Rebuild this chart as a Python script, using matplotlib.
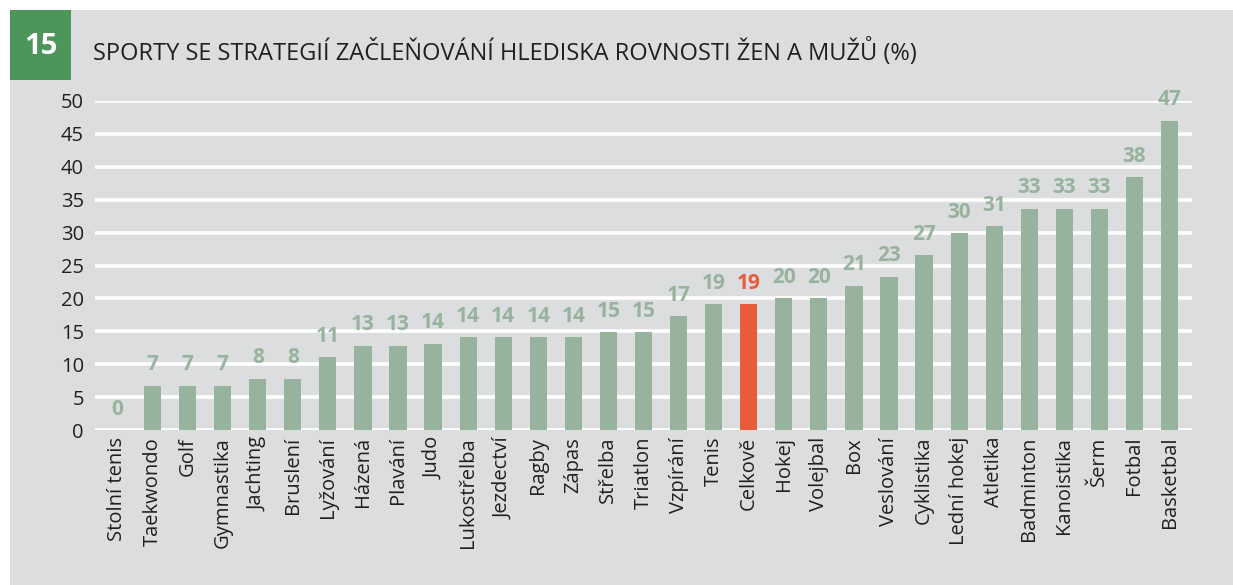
import matplotlib
matplotlib.use("Agg")
import matplotlib.pyplot as plt
from matplotlib import font_manager
from matplotlib.patches import Rectangle

categories = ["Stolní tenis", "Taekwondo", "Golf", "Gymnastika", "Jachting", "Bruslení",
              "Lyžování", "Házená", "Plavání", "Judo", "Lukostřelba", "Jezdectví", "Ragby",
              "Zápas", "Střelba", "Triatlon", "Vzpírání", "Tenis", "Celkově", "Hokej",
              "Volejbal", "Box", "Veslování", "Cyklistika", "Lední hokej", "Atletika",
              "Badminton", "Kanoistika", "Šerm", "Fotbal", "Basketbal"]
values = [0, 6.7, 6.7, 6.7, 7.8, 7.8, 11.1, 12.8, 12.8, 13.1, 14.1, 14.1, 14.1, 14.1,
          14.9, 14.9, 17.3, 19.1, 19.1, 20.0, 20.0, 21.9, 23.3, 26.6, 29.9, 31.0,
          33.6, 33.6, 33.6, 38.4, 47.0]
value_labels = ["0", "7", "7", "7", "8", "8", "11", "13", "13", "14", "14", "14", "14", "14",
                "15", "15", "17", "19", "19", "20", "20", "21", "23", "27", "30", "31",
                "33", "33", "33", "38", "47"]
highlight = "Celkově"
yticks = [0, 5, 10, 15, 20, 25, 30, 35, 40, 45, 50]
title = "SPORTY SE STRATEGIÍ ZAČLEŇOVÁNÍ HLEDISKA ROVNOSTI ŽEN A MUŽŮ (%)"
badge = "15"


def pick(names):
    for n in names:
        try:
            font_manager.findfont(font_manager.FontProperties(family=n), fallback_to_default=False)
            return n
        except Exception:
            pass
    return "DejaVu Sans"


narrow = pick(["Liberation Sans Narrow", "Open Sans", "Noto Sans"])
regular = pick(["Open Sans", "Noto Sans", "Lato"])

BG = "#DCDDDF"
BAR = "#97B39E"
RED = "#E95C3A"
GREEN = "#4C9659"
DARK = "#231F20"

W, H = 1233, 585
fig = plt.figure(figsize=(W / 100, H / 100), dpi=100)
fig.patch.set_facecolor("white")
fig.add_artist(Rectangle((10 / W, 0), 1 - 10 / W, 1 - 10 / H, transform=fig.transFigure,
                         facecolor=BG, edgecolor="none", zorder=0))
fig.add_artist(Rectangle((10 / W, 1 - 80 / H), 61 / W, 70 / H, transform=fig.transFigure,
                         facecolor=GREEN, edgecolor="none", zorder=1))
fig.text(40.5 / W, 1 - 46 / H, badge, color="white", fontsize=21, fontweight="bold",
         family=[regular, "DejaVu Sans"], ha="center", va="center")
fig.text(93 / W, 1 - 52 / H, title, color=DARK, fontsize=17,
         family=[narrow, "DejaVu Sans"], ha="left", va="center")

ax = fig.add_axes([95 / W, 1 - 430 / H, (1192 - 95) / W, (430 - 101) / H])
ax.set_facecolor("none")
x = list(range(len(categories)))
colors = [RED if c == highlight else BAR for c in categories]
ax.bar(x, values, width=0.49, color=colors, zorder=3)
ax.set_xlim(-0.64, len(categories) - 1 + 0.64)
ax.set_ylim(0, 50)
ax.set_yticks(yticks)
ax.grid(axis="y", color="white", linewidth=2.6, zorder=1)
ax.set_axisbelow(True)
for s in ax.spines.values():
    s.set_visible(False)
ax.tick_params(axis="both", length=0, colors=DARK)
ax.tick_params(axis="y", pad=8, labelsize=14.5)
ax.tick_params(axis="x", pad=5, labelsize=14.5)
for lab in ax.get_yticklabels():
    lab.set_family([narrow, "DejaVu Sans"])
ax.set_xticks(x)
ax.set_xticklabels(categories, rotation=90, family=[narrow, "DejaVu Sans"])

for xi, v, lab, c in zip(x, values, value_labels, categories):
    ax.annotate(lab, (xi, v), xytext=(0, 7.5), textcoords="offset points",
                ha="center", va="bottom", fontsize=15, fontweight="bold",
                family=[narrow, "DejaVu Sans"],
                color=RED if c == highlight else BAR, annotation_clip=False, zorder=4)

fig.savefig("out.png", dpi=100, facecolor=fig.get_facecolor())
